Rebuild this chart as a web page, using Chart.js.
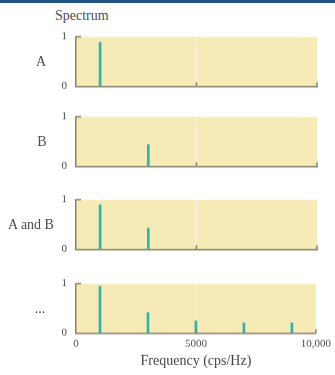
<!DOCTYPE html>
<html>
<head>
<meta charset="utf-8">
<script src="https://cdn.jsdelivr.net/npm/chart.js@4.4.0/dist/chart.umd.min.js"></script>
<style>
body { margin: 0; width: 335px; height: 375px; position: relative; background: #fff; overflow: hidden; font-family: "Liberation Serif", serif; color: #555; }
#topbar { position: absolute; left: 0; top: 0; width: 335px; height: 3px; background: #1f5482; }
.lbl { position: absolute; width: 80px; text-align: center; font-size: 14px; line-height: 16px; color: #4d4d4d; }
#spectrum { position: absolute; left: 55px; top: 8px; font-size: 14px; line-height: 16px; color: #4d4d4d; }
canvas { position: absolute; left: 0; }
</style>
</head>
<body>
<div id="topbar"></div>
<div id="spectrum">Spectrum</div>

<script>
// --- DATA ---
const rowLabels = ['A', 'B', 'A and B', '...'];
const freqA = [1000];
const ampA = [0.89];
const freqB = [3000];
const ampB = [0.44];
const freqAB = [1000, 3000];
const ampAB = [0.9, 0.43];
const freqSum = [1000, 3000, 5000, 7000, 9000];
const ampSum = [0.95, 0.42, 0.25, 0.21, 0.21];
const xTickValues = [0, 5000, 10000];
const xTickLabels = ['0', '5000', '10,000'];
const xTitle = 'Frequency (cps/Hz)';

// --- LAYOUT ---
const panelTops = [37, 117, 200, 284];   // plot area top for each row
const labelCenters = [41, 42, 31, 40];
const plotH = 49;
const fontFam = '"Liberation Serif", serif';
const lineColor = '#33b2a5';
const axisColor = '#8c826b';
const fillColor = '#f6ebb6';

const panels = [
    { freq: freqA, amp: ampA },
    { freq: freqB, amp: ampB },
    { freq: freqAB, amp: ampAB },
    { freq: freqSum, amp: ampSum }
];

// yellow panel + little inward tick marks
const frame = {
    id: 'frame',
    beforeDraw(chart) {
        const a = chart.chartArea, ctx = chart.ctx;
        ctx.save();
        ctx.fillStyle = fillColor;
        ctx.fillRect(a.left, a.top, a.right - a.left, a.bottom - a.top);
        ctx.restore();
    },
    afterDraw(chart) {
        const a = chart.chartArea, ctx = chart.ctx;
        const x = chart.scales.x, y = chart.scales.y;
        ctx.save();
        ctx.strokeStyle = axisColor;
        ctx.lineWidth = 1.5;
        ctx.beginPath();
        const y1 = y.getPixelForValue(1);
        ctx.moveTo(a.left, y1);
        ctx.lineTo(a.left + 5, y1);
        [5000, 10000].forEach(v => {
            const px = x.getPixelForValue(v);
            ctx.moveTo(px, a.bottom);
            ctx.lineTo(px, a.bottom - 4);
        });
        ctx.stroke();
        ctx.restore();
    }
};

panels.forEach((p, i) => {
    const last = i === panels.length - 1;
    const xH = last ? 42 : 0;

    const cv = document.createElement('canvas');
    cv.width = 335;
    cv.height = last ? 110 : 80;
    document.body.appendChild(cv);

    const lbl = document.createElement('div');
    lbl.className = 'lbl';
    lbl.textContent = rowLabels[i];
    lbl.style.left = (labelCenters[i] - 40) + 'px';
    lbl.style.top = (panelTops[i] + plotH / 2 - 8) + 'px';
    document.body.appendChild(lbl);

    const chart = new Chart(cv, {
        type: 'bar',
        data: {
            datasets: [{
                data: p.freq.map((f, k) => ({ x: f, y: p.amp[k] })),
                backgroundColor: lineColor,
                barThickness: 2,
                borderWidth: 0
            }]
        },
        options: {
            responsive: false,
            maintainAspectRatio: false,
            animation: false,
            layout: { padding: { top: 4, right: 18, bottom: last ? 0 : 3, left: 0 } },
            plugins: { legend: { display: false }, tooltip: { enabled: false } },
            scales: {
                x: {
                    type: 'linear',
                    min: 0, max: 10000,
                    offset: false,
                    grid: {
                        offset: false,
                        drawTicks: false,
                        lineWidth: 1,
                        color: c => (c.tick && c.tick.value === 5000) ? 'rgba(255,255,255,0.6)' : 'rgba(0,0,0,0)'
                    },
                    border: { color: axisColor, width: 1.5 },
                    ticks: {
                        display: last,
                        stepSize: 5000,
                        padding: 4,
                        maxRotation: 0,
                        font: { family: fontFam, size: 11 },
                        color: '#4a4a4a',
                        callback: v => xTickLabels[xTickValues.indexOf(v)]
                    },
                    title: {
                        display: last,
                        text: xTitle,
                        font: { family: fontFam, size: 14 },
                        color: '#444',
                        padding: { top: 0, bottom: 6 }
                    },
                    afterFit: s => { if (last) s.height = xH; }
                },
                y: {
                    min: 0, max: 1,
                    grid: { display: false, drawTicks: false },
                    border: { color: axisColor, width: 1.5 },
                    ticks: {
                        stepSize: 1,
                        padding: 9,
                        font: { family: fontFam, size: 11 },
                        color: '#4a4a4a'
                    },
                    afterFit: s => { s.width = 76; }
                }
            }
        },
        plugins: [frame]
    });

    // resize so the plot area is plotH tall, then line it up with its row
    const a = chart.chartArea;
    chart.resize(335, cv.height + plotH - (a.bottom - a.top));
    cv.style.top = (panelTops[i] - chart.chartArea.top) + 'px';
});
</script>
</body>
</html>
